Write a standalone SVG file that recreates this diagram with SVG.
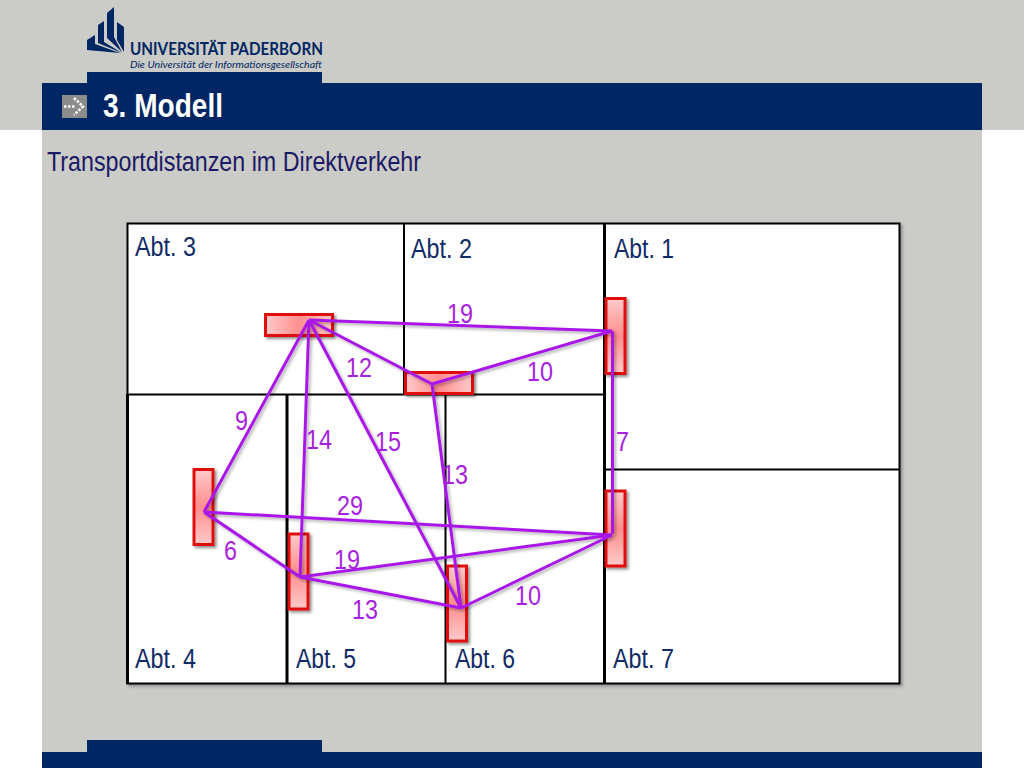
<svg xmlns="http://www.w3.org/2000/svg" width="1024" height="768" viewBox="0 0 1024 768">
<defs>
<linearGradient id="gv" x1="0" y1="0" x2="0" y2="1"><stop offset="0" stop-color="#ffcaca"/><stop offset="0.5" stop-color="#ff8e8e"/><stop offset="1" stop-color="#ffcaca"/></linearGradient>
<linearGradient id="gh" x1="0" y1="0" x2="1" y2="0"><stop offset="0" stop-color="#ffcaca"/><stop offset="0.5" stop-color="#ff8e8e"/><stop offset="1" stop-color="#ffcaca"/></linearGradient>
<filter id="sh" x="-30%" y="-30%" width="160%" height="160%"><feDropShadow dx="2" dy="2" stdDeviation="1.500" flood-color="#000" flood-opacity="0.45"/></filter>
<filter id="shl" x="-5%" y="-5%" width="110%" height="110%"><feDropShadow dx="2" dy="2" stdDeviation="1.500" flood-color="#000" flood-opacity="0.3"/></filter>
</defs>
<style>
text{font-family:"Liberation Sans",Arial,sans-serif}
.dept{font-size:27px;fill:#0f2a66}
.num{font-size:28px;fill:#a91fe0}
.wall{fill:none;stroke:#000;stroke-width:2}
.thick{fill:none;stroke:#000;stroke-width:3}
.area{stroke:#e01010;stroke-width:3}
.link{stroke:#a918e8;stroke-width:3;fill:none}
.navy{fill:#002663}
.brand{font-family:Lato,"Liberation Sans",sans-serif;fill:#002663}
</style>
<rect width="1024" height="768" fill="#fff"/>
<rect x="0" y="0" width="1024" height="130" fill="#cbcbc7"/>
<rect x="42" y="130" width="940" height="638" fill="#cbcbc7"/>
<g id="header">
<g id="logo" class="navy">
<polygon points="87,40 95,35 95,44 120,53 87,50"/>
<polygon points="98,25 104,21 104,42 122,53 98,43"/>
<polygon points="107,13 114,7 114,37 122,52 107,38"/>
<polygon points="117,22 124,27 124,52 117,40"/>
<text class="brand" x="130" y="55" font-size="16.500" font-weight="700" textLength="193" lengthAdjust="spacingAndGlyphs">UNIVERSITÄT PADERBORN</text>
<text class="brand" x="130" y="68" font-size="9.500" font-style="italic" textLength="192" lengthAdjust="spacingAndGlyphs">Die Universität der Informationsgesellschaft</text>
</g>
<rect class="navy" x="87" y="72" width="235" height="12"/>
<rect class="navy" x="42" y="83" width="940" height="47"/>
<rect x="62" y="95" width="25" height="23" fill="#8c8c8c"/>
<path d="M64 106.500H76M74 98L83 106.500L74 115" fill="none" stroke="#fff" stroke-width="2.500" stroke-dasharray="2.500 1.500"/>
<text x="103" y="117" font-size="33" font-weight="700" fill="#fff" textLength="120" lengthAdjust="spacingAndGlyphs">3. Modell</text>
</g>
<text x="47" y="171" font-size="27" fill="#1b1a66" textLength="374" lengthAdjust="spacingAndGlyphs">Transportdistanzen im Direktverkehr</text>
<g id="footer">
<rect class="navy" x="87" y="740" width="235" height="13"/>
<rect class="navy" x="42" y="752" width="940" height="16"/>
</g>
<g id="departments" filter="url(#shl)">
<rect x="127" y="223" width="772" height="461" fill="#fff"/>
<rect class="wall" x="127.500" y="223.500" width="772" height="460"/>
<path class="wall" d="M404 223V394M127 394.500H604M604 469.500H899M445.500 394V684"/>
<path class="thick" d="M287 394V684M604.500 223V684M127.500 394V684"/>
</g>
<g id="abt3"><text class="dept" x="135" y="256" textLength="61" lengthAdjust="spacingAndGlyphs">Abt. 3</text></g>
<g id="abt2"><text class="dept" x="411" y="258" textLength="61" lengthAdjust="spacingAndGlyphs">Abt. 2</text></g>
<g id="abt1"><text class="dept" x="614" y="258" textLength="60" lengthAdjust="spacingAndGlyphs">Abt. 1</text></g>
<g id="abt4"><text class="dept" x="135" y="668" textLength="61" lengthAdjust="spacingAndGlyphs">Abt. 4</text></g>
<g id="abt5"><text class="dept" x="296" y="668" textLength="60" lengthAdjust="spacingAndGlyphs">Abt. 5</text></g>
<g id="abt6"><text class="dept" x="455" y="668" textLength="60" lengthAdjust="spacingAndGlyphs">Abt. 6</text></g>
<g id="abt7"><text class="dept" x="613" y="668" textLength="61" lengthAdjust="spacingAndGlyphs">Abt. 7</text></g>
<g id="area3"><rect class="area" x="265.500" y="314.500" width="67" height="21" fill="url(#gh)" filter="url(#sh)"/></g>
<g id="area2"><rect class="area" x="405.500" y="372.500" width="67" height="21" fill="url(#gh)" filter="url(#sh)"/></g>
<g id="area1"><rect class="area" x="606" y="298.500" width="19" height="75" fill="url(#gv)" filter="url(#sh)"/></g>
<g id="area4"><rect class="area" x="194" y="469.500" width="19" height="75" fill="url(#gv)" filter="url(#sh)"/></g>
<g id="area5"><rect class="area" x="289" y="534" width="19" height="75" fill="url(#gv)" filter="url(#sh)"/></g>
<g id="area6"><rect class="area" x="447.500" y="566" width="19" height="75" fill="url(#gv)" filter="url(#sh)"/></g>
<g id="area7"><rect class="area" x="606" y="491" width="19" height="75" fill="url(#gv)" filter="url(#sh)"/></g>
<g id="connectors" class="link" filter="url(#shl)">
<path d="M309 320L612 331"/>
<path d="M309 320L432 384"/>
<path d="M432 384L612 331"/>
<path d="M309 320L204 512"/>
<path d="M309 320L300 577"/>
<path d="M309 320L461 608"/>
<path d="M432 384L461 608"/>
<path d="M612.500 331V534"/>
<path d="M204 512L612 535"/>
<path d="M204 512L300 577"/>
<path d="M300 577L612 535"/>
<path d="M300 577L461 608"/>
<path d="M461 608L612 535"/>
</g>
<g id="distances">
<text class="num" x="447" y="323" textLength="26" lengthAdjust="spacingAndGlyphs">19</text>
<text class="num" x="346" y="377" textLength="26" lengthAdjust="spacingAndGlyphs">12</text>
<text class="num" x="527" y="381" textLength="26" lengthAdjust="spacingAndGlyphs">10</text>
<text class="num" x="235" y="430" textLength="13" lengthAdjust="spacingAndGlyphs">9</text>
<text class="num" x="306" y="449" textLength="26" lengthAdjust="spacingAndGlyphs">14</text>
<text class="num" x="375" y="451" textLength="26" lengthAdjust="spacingAndGlyphs">15</text>
<text class="num" x="442" y="484" textLength="26" lengthAdjust="spacingAndGlyphs">13</text>
<text class="num" x="616" y="451" textLength="13" lengthAdjust="spacingAndGlyphs">7</text>
<text class="num" x="337" y="515" textLength="26" lengthAdjust="spacingAndGlyphs">29</text>
<text class="num" x="224" y="560" textLength="13" lengthAdjust="spacingAndGlyphs">6</text>
<text class="num" x="334" y="569" textLength="26" lengthAdjust="spacingAndGlyphs">19</text>
<text class="num" x="352" y="619" textLength="26" lengthAdjust="spacingAndGlyphs">13</text>
<text class="num" x="515" y="605" textLength="26" lengthAdjust="spacingAndGlyphs">10</text>
</g>
</svg>
